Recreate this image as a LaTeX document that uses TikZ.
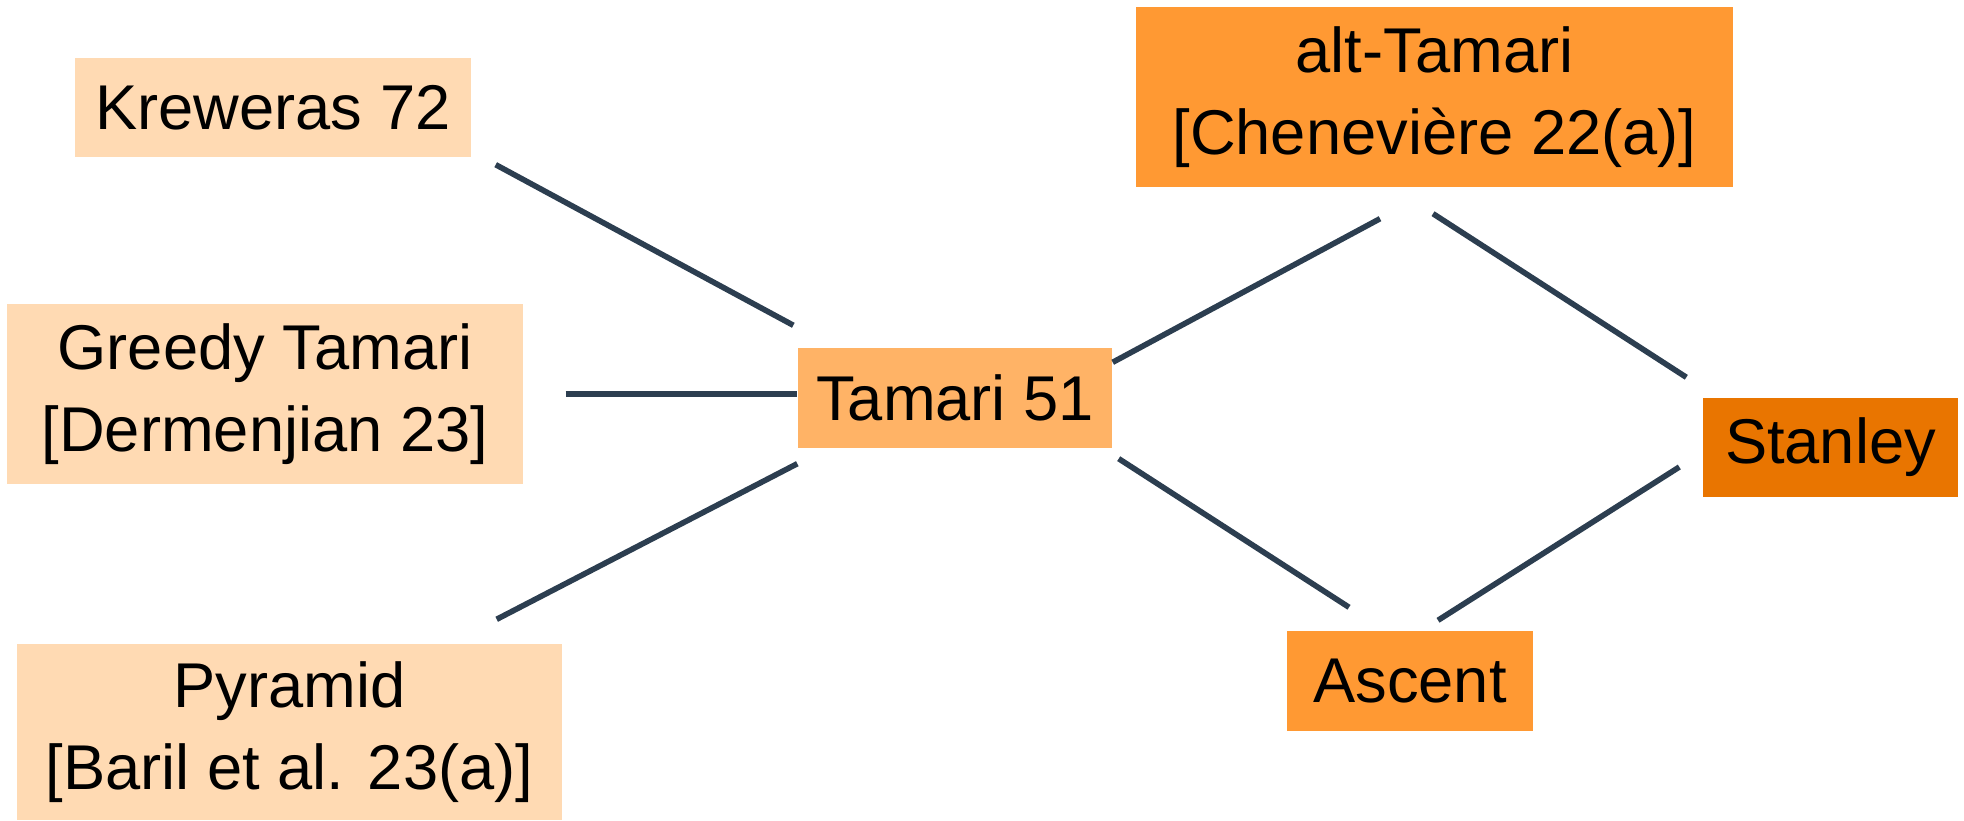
\documentclass[tikz,border=0pt]{standalone}
\usepackage{fontspec}
\setmainfont{Liberation Sans}
\definecolor{pale}{HTML}{FFDAB3}
\definecolor{mid}{HTML}{FFB366}
\definecolor{bright}{HTML}{FF9933}
\definecolor{deep}{HTML}{E97500}
\definecolor{edge}{HTML}{2C3E50}
\begin{document}
\begin{tikzpicture}[box/.style={inner sep=0pt,align=center,font=\fontsize{18pt}{23.3pt}\selectfont},
link/.style={draw=edge,line width=1.6pt}]
\useasboundingbox (0,0) rectangle (19.64,8.2);
\node[box,fill=pale,minimum width=3.96cm,minimum height=0.99cm] (kreweras) at (2.73,7.125) {Kreweras 72};
\node[box,fill=pale,minimum width=5.16cm,minimum height=1.8cm] (greedy) at (2.65,4.26) {Greedy Tamari\\{[Dermenjian 23]}};
\node[box,fill=pale,minimum width=5.45cm,minimum height=1.76cm] (pyramid) at (2.895,0.88) {Pyramid\\{[Baril et al. 23(a)]}};
\node[box,fill=mid,minimum width=3.14cm,minimum height=1cm] (tamari) at (9.55,4.22) {Tamari 51};
\node[box,fill=bright,minimum width=5.97cm,minimum height=1.8cm] (alt) at (14.345,7.23) {alt-Tamari\\{[Chenevière 22(a)]}};
\node[box,fill=deep,minimum width=2.55cm,minimum height=0.99cm] (stanley) at (18.305,3.725) {Stanley};
\node[box,fill=bright,minimum width=2.46cm,minimum height=1cm] (ascent) at (14.1,1.39) {Ascent};
\draw[link] ([shift={(0.24,-0.07)}]kreweras.south east) -- ([shift={(-0.04,0.22)}]tamari.north west);
\draw[link] ([xshift=4.2mm]greedy.east) -- (greedy.east -| tamari.west);
\draw[link] ([shift={(-0.66,0.24)}]pyramid.north east) -- ([yshift=-1.5mm]tamari.south west);
\draw[link] ([yshift=-1.5mm]tamari.north east) -- ([shift={(-0.545,-0.31)}]alt.south);
\draw[link] ([shift={(-0.015,-0.26)}]alt.south) -- ([shift={(-0.16,0.2)}]stanley.north west);
\draw[link] ([shift={(0.06,-0.1)}]tamari.south east) -- ([shift={(-0.61,0.23)}]ascent.north);
\draw[link] ([shift={(0.28,0.1)}]ascent.north) -- ([shift={(-0.23,-0.195)}]stanley.west);
\end{tikzpicture}
\end{document}
